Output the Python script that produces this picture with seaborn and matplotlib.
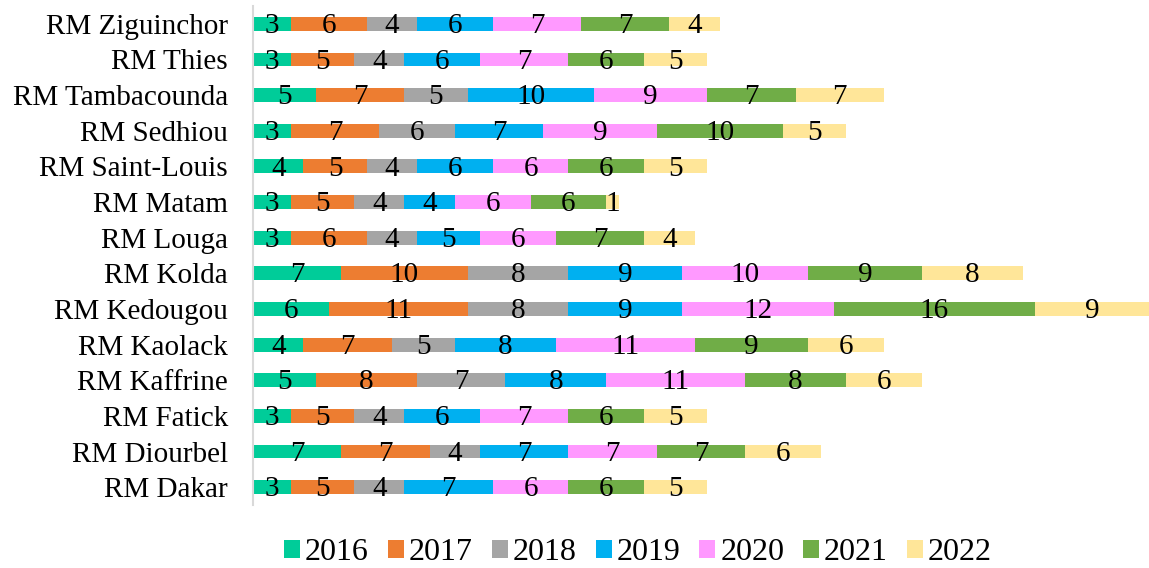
import matplotlib
matplotlib.use('Agg')
import matplotlib.pyplot as plt
import seaborn as sns
import numpy as np

regions = ['RM Ziguinchor', 'RM Thies', 'RM Tambacounda', 'RM Sedhiou', 'RM Saint-Louis',
           'RM Matam', 'RM Louga', 'RM Kolda', 'RM Kedougou', 'RM Kaolack',
           'RM Kaffrine', 'RM Fatick', 'RM Diourbel', 'RM Dakar']
years = ['2016', '2017', '2018', '2019', '2020', '2021', '2022']

v2016 = [3, 3, 5, 3, 4, 3, 3, 7, 6, 4, 5, 3, 7, 3]
v2017 = [6, 5, 7, 7, 5, 5, 6, 10, 11, 7, 8, 5, 7, 5]
v2018 = [4, 4, 5, 6, 4, 4, 4, 8, 8, 5, 7, 4, 4, 4]
v2019 = [6, 6, 10, 7, 6, 4, 5, 9, 9, 8, 8, 6, 7, 7]
v2020 = [7, 7, 9, 9, 6, 6, 6, 10, 12, 11, 11, 7, 7, 6]
v2021 = [7, 6, 7, 10, 6, 6, 7, 9, 16, 9, 8, 6, 7, 6]
v2022 = [4, 5, 7, 5, 5, 1, 4, 8, 9, 6, 6, 5, 6, 5]

colors = ['#00CC99', '#ED7D31', '#A5A5A5', '#00B0F0', '#FF99FF', '#70AD47', '#FFE699']

sns.set_theme(style='white')
plt.rcParams['font.family'] = ['Liberation Serif', 'DejaVu Serif']

fig = plt.figure(figsize=(11.49, 5.68), dpi=100)
ax = fig.add_axes([253 / 1149, 1 - 505 / 568, 1 - 253 / 1149, 499 / 568])

series = [v2016, v2017, v2018, v2019, v2020, v2021, v2022]
ypos = np.arange(len(regions))
left = np.zeros(len(regions))
for year, vals, col in zip(years, series, colors):
    vals = np.array(vals, dtype=float)
    ax.barh(ypos, vals, left=left, height=0.39, color=col, label=year, edgecolor='none', linewidth=0)
    for y, l, v in zip(ypos, left, vals):
        ax.text(l + v / 2, y + 0.06, f'{int(v)}', ha='center', va='center', fontsize=21, color='black')
    left += vals

ax.set_yticks(ypos)
ax.set_yticklabels(regions, fontsize=21, color='black')
ax.set_ylim(len(regions) - 0.5, -0.5)
ax.set_xlim(0, left.max())
ax.set_xticks([])
ax.tick_params(axis='y', length=0, pad=18)
for s in ['top', 'right', 'bottom']:
    ax.spines[s].set_visible(False)
ax.spines['left'].set_color('#D9D9D9')
ax.spines['left'].set_linewidth(1.5)

fig.legend(loc='center', bbox_to_anchor=(638 / 1149, 1 - 553 / 568), ncol=7, frameon=False,
           fontsize=23, labelcolor='black', handlelength=0.5, handleheight=0.5,
           handletextpad=0.15, columnspacing=0.6)

fig.savefig('out.png', dpi=100)
